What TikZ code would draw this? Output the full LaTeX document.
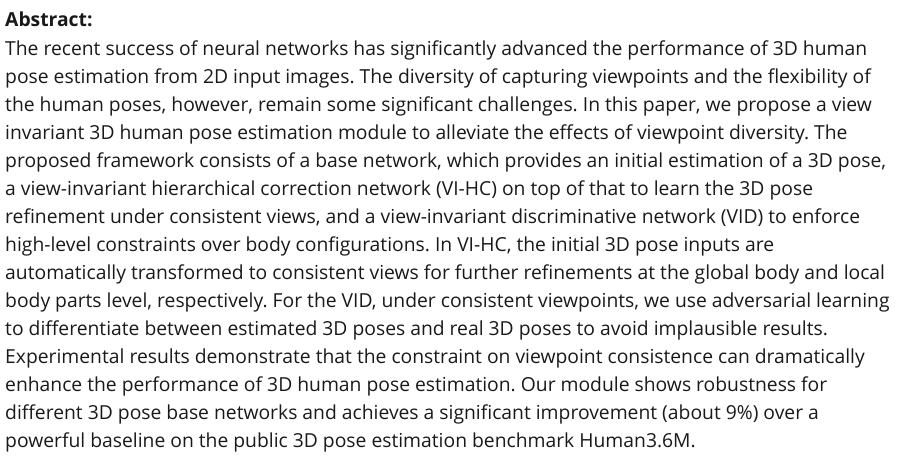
\documentclass[tikz,border=0pt]{standalone}
\usepackage{fontspec}
\setmainfont{Open Sans}
\frenchspacing
\begin{document}
\begin{tikzpicture}[x=1pt,y=-1pt,line/.style={anchor=base west,inner sep=0pt,font=\fontsize{19.3}{22}\selectfont,text=black!90}]
\useasboundingbox (0,0) rectangle (907,463);
\node[line,font=\fontsize{19.3}{22}\selectfont\bfseries] (t) at (5,27) {Abstract:};
\foreach \i/\s in {1/{The recent success of neural networks has significantly advanced the performance of 3D human},
2/{pose estimation from 2D input images. The diversity of capturing viewpoints and the flexibility of},
3/{the human poses, however, remain some significant challenges. In this paper, we propose a view},
4/{invariant 3D human pose estimation module to alleviate the effects of viewpoint diversity. The},
5/{proposed framework consists of a base network, which provides an initial estimation of a 3D pose,},
6/{a view-invariant hierarchical correction network (VI-HC) on top of that to learn the 3D pose},
7/{refinement under consistent views, and a view-invariant discriminative network (VID) to enforce},
8/{high-level constraints over body configurations. In VI-HC, the initial 3D pose inputs are},
9/{automatically transformed to consistent views for further refinements at the global body and local},
10/{body parts level, respectively. For the VID, under consistent viewpoints, we use adversarial learning},
11/{to differentiate between estimated 3D poses and real 3D poses to avoid implausible results.},
12/{Experimental results demonstrate that the constraint on viewpoint consistence can dramatically},
13/{enhance the performance of 3D human pose estimation. Our module shows robustness for},
14/{different 3D pose base networks and achieves a significant improvement (about 9\%) over a},
15/{powerful baseline on the public 3D pose estimation benchmark Human3.6M.}}
{\node[line] (l\i) at (5,{55+28.07*(\i-1)}) {\s};}
\end{tikzpicture}
\end{document}
